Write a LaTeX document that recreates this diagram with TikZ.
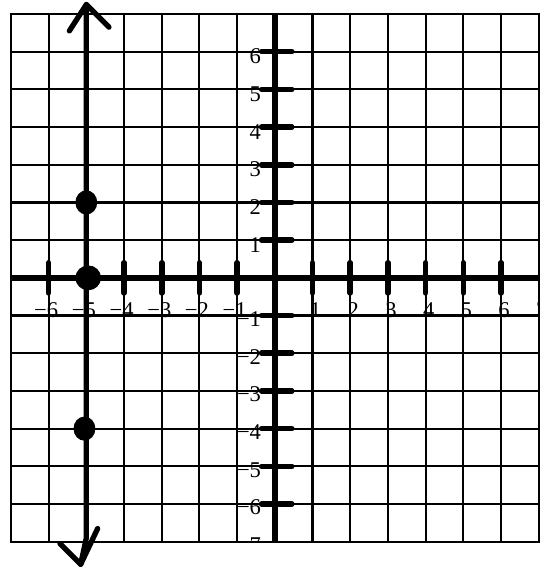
\documentclass[tikz,border=0pt]{standalone}
\usepackage{fontspec}
\setmainfont{Liberation Serif}
\usetikzlibrary{shapes.geometric}
\begin{document}
\begin{tikzpicture}[x=1cm,y=1cm,
  gridline/.style={line width=1.6pt},
  axisline/.style={line width=4.8pt},
  tickmark/.style={line width=4.2pt, line cap=round},
  graphline/.style={line width=4pt, line cap=round, line join=round},
  dotpt/.style={ellipse, fill=black, inner sep=0pt, minimum width=0.58cm, minimum height=0.64cm},
  lab/.style={inner sep=0pt, font=\fontsize{17}{17}\selectfont}
]
\useasboundingbox (-7.29,-7.67) rectangle (7.33,7.37);
% grid
\draw[gridline] (-7,-7) grid (7,7);
\draw[gridline] (-7,-7) rectangle (7,7);
% axes
\draw[axisline] (-7,0) -- (7,0);
\draw[axisline] (0,-7) -- (0,7);
% ticks
\foreach \i in {-6,...,-1,1,2,...,6}{
  \draw[tickmark] (\i,-0.4) -- (\i,0.4);
  \draw[tickmark] (-0.35,\i) -- (0.45,\i);
}
% labels (clipped at the grid border)
\begin{scope}
\clip (-7,-7) rectangle (7,7);
\foreach \i in {-6,...,-1}{
  \node[lab, anchor=east] (xl\i) at (\i+0.26,-0.85) {−\the\numexpr-\i\relax};
}
\foreach \i in {1,...,7}{
  \node[lab] (xl\i) at (\i+0.08,-0.85) {\i};
}
\foreach \i in {1,...,6}{
  \node[lab, anchor=east] (yl\i) at (-0.36,\i-0.13) {\i};
}
\foreach \i in {-7,...,-1}{
  \node[lab, anchor=east] (yl\i) at (-0.36,\i-0.09) {−\the\numexpr-\i\relax};
}
\end{scope}
% vertical line x = -5
\coordinate (top) at (-5,7.25);
\coordinate (bot) at (-5.15,-7.6);
\coordinate (ta) at (-5.45,6.55);
\coordinate (tb) at (-4.4,6.65);
\coordinate (ba) at (-5.7,-7.05);
\coordinate (bb) at (-4.7,-6.65);
\draw[graphline] (top) -- (-5,-6.9) -- (bot);
\draw[graphline] (ta) -- (top) -- (tb);
\draw[graphline] (ba) -- (bot) -- (bb);
% points
\node[dotpt] (p1) at (-5,2) {};
\node[dotpt, minimum width=0.68cm, minimum height=0.66cm] (p2) at (-4.95,0) {};
\node[dotpt] (p3) at (-5.05,-4) {};
\end{tikzpicture}
\end{document}
